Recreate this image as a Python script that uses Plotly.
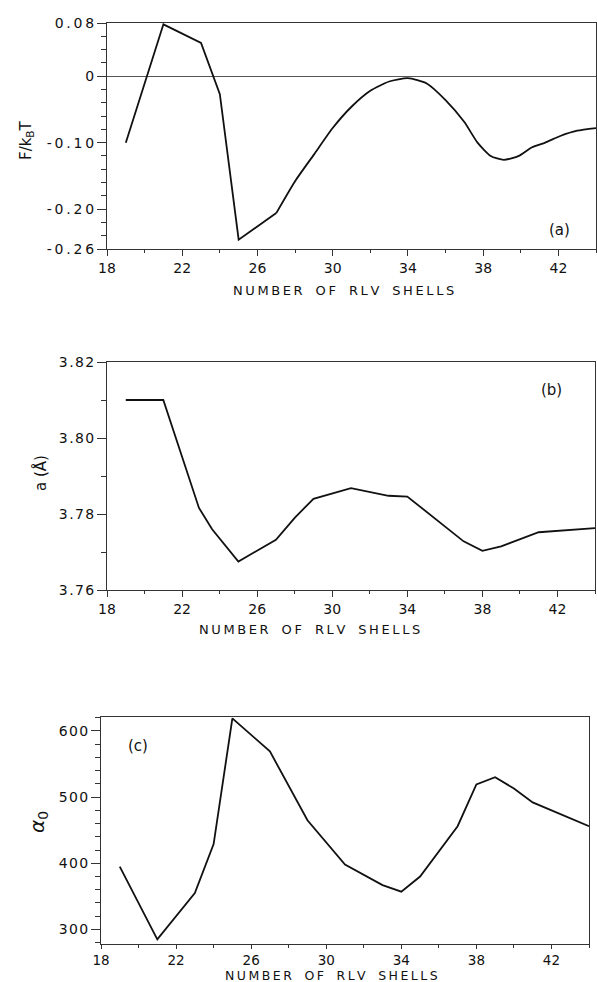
import plotly.graph_objects as go

# ---------------- data ----------------
# (a) free energy F/kBT vs number of RLV shells
a_lin_x = [19, 21, 23, 24, 25, 27]
a_lin_y = [-0.100, 0.078, 0.050, -0.027, -0.246, -0.206]
a_smooth_x = [27, 28, 29, 30, 31, 32, 33, 34, 35, 36, 37, 37.7, 38.4, 39.1, 39.9, 40.6, 41.3, 42.1, 43, 44]
a_smooth_y = [-0.206, -0.158, -0.118, -0.078, -0.046, -0.022, -0.008, -0.003, -0.011, -0.036,
              -0.069, -0.100, -0.120, -0.126, -0.120, -0.107, -0.100, -0.090, -0.082, -0.078]

# (b) lattice constant a (Angstrom)
b_x = [19, 21, 22.9, 23.6, 25, 27, 28, 29, 31, 33, 34, 37, 38, 39, 41, 44]
b_y = [3.8100, 3.8100, 3.7816, 3.7760, 3.7675, 3.7732, 3.7790, 3.7840, 3.7868, 3.7848,
       3.7846, 3.7728, 3.7703, 3.7715, 3.7752, 3.7763]

# (c) alpha_0
c_x = [19, 21, 23, 23.2, 24, 25, 27, 29, 31, 33, 34, 35, 37, 38, 39, 40, 41, 44]
c_y = [395, 285, 355, 370, 429, 619, 569, 465, 398, 367, 357, 380, 456, 519, 530, 513, 492, 456]

x_ticks = [18, 22, 26, 30, 34, 38, 42]
a_ticks = [0.08, 0, -0.10, -0.20, -0.26]
a_ticktext = ["0.08", "0", "-0.10", "-0.20", "-0.26"]
b_ticks = [3.76, 3.78, 3.80, 3.82]
b_ticktext = ["3.76", "3.78", "3.80", "3.82"]
c_ticks = [300, 400, 500, 600]
c_ticktext = ["300", "400", "500", "600"]

W, H = 597, 982
FONT = "DejaVu Sans"
INK = "#111111"
AX = "#333333"

def px(v):
    return v / W

def py(v):
    return 1 - v / H

def spaced(s, sep):
    return sep.join(s)

fig = go.Figure()
line = dict(color=INK, width=1.8)
fig.add_trace(go.Scatter(x=a_lin_x, y=a_lin_y, mode="lines", line=line, xaxis="x", yaxis="y"))
fig.add_trace(go.Scatter(x=a_smooth_x, y=a_smooth_y, mode="lines",
                         line=dict(color=INK, width=1.8, shape="spline", smoothing=0.6),
                         xaxis="x", yaxis="y"))
fig.add_trace(go.Scatter(x=b_x, y=b_y, mode="lines", line=line, xaxis="x2", yaxis="y2"))
fig.add_trace(go.Scatter(x=c_x, y=c_y, mode="lines", line=line, xaxis="x3", yaxis="y3"))

tickfont = dict(family=FONT, size=14, color=INK)

def xaxis(dom, anchor, tl=6, fs=14):
    return dict(domain=dom, anchor=anchor, range=[18, 44], tickmode="array", tickvals=x_ticks,
                ticks="outside", ticklen=tl, tickwidth=1, tickcolor=AX, automargin=False,
                minor=dict(dtick=2, tick0=0, ticks="outside", ticklen=3, tickcolor=AX),
                showline=True, linecolor=AX, linewidth=1, mirror=True,
                showgrid=False, zeroline=False, tickfont=dict(family=FONT, size=fs, color=INK))

def yaxis(dom, anchor, rng, tv, tt, mdt):
    return dict(domain=dom, anchor=anchor, range=rng, tickmode="array", tickvals=tv, ticktext=tt,
                ticks="outside", ticklen=9, tickwidth=1, tickcolor=AX, automargin=False,
                minor=dict(dtick=mdt, tick0=0, ticks="outside", ticklen=5, tickcolor=AX),
                showline=True, linecolor=AX, linewidth=1, mirror=True,
                showgrid=False, zeroline=False, tickfont=tickfont)

ya = yaxis([py(249), py(23)], "x", [-0.26, 0.08], a_ticks,
           [spaced(t, "\u2009") for t in a_ticktext], 0.02)
ya.update(zeroline=True, zerolinecolor="#555555", zerolinewidth=1)

fig.update_layout(
    width=W, height=H, margin=dict(l=0, r=0, t=0, b=0, autoexpand=False),
    paper_bgcolor="white", plot_bgcolor="white", showlegend=False,
    xaxis=xaxis([px(107), px(596)], "y"),
    yaxis=ya,
    xaxis2=xaxis([px(107), px(595)], "y2"),
    yaxis2=yaxis([py(590), py(362)], "x2", [3.76, 3.82], b_ticks,
                 [spaced(t, "\u200a") for t in b_ticktext], 0.01),
    xaxis3=xaxis([px(101), px(589)], "y3", tl=4, fs=13.5),
    yaxis3=yaxis([py(944), py(717)], "x3", [278, 621], c_ticks,
                 [spaced(t, "\u200a") for t in c_ticktext], 20),
)

titlefont = dict(family=FONT, size=13, color=INK)
xt = "\u2009".join("NUMBER OF RLV SHELLS").replace("\u2009 \u2009", "\u2003")
C = dict(xanchor="center", yanchor="middle", showarrow=False)
ann = [
    dict(text=xt, x=px(343), y=py(290), xref="paper", yref="paper", font=titlefont, **C),
    dict(text=xt, x=px(309), y=py(629), xref="paper", yref="paper", font=titlefont, **C),
    dict(text=xt, x=px(331), y=py(975), xref="paper", yref="paper",
         font=dict(family=FONT, size=12.5, color=INK), **C),
    dict(text="F/k<sub>B</sub>T", x=px(26), y=py(140), xref="paper", yref="paper",
         textangle=-90, font=dict(family=FONT, size=15, color=INK), **C),
    dict(text="a (Å)", x=px(40), y=py(473), xref="paper", yref="paper",
         textangle=-90, font=dict(family=FONT, size=15, color=INK), **C),
    dict(text="<i>α</i><sub>0</sub>", x=px(38), y=py(822), xref="paper", yref="paper",
         textangle=-90, font=dict(family=FONT, size=20, color=INK), **C),
    dict(text="(a)", x=42.07, y=-0.232, xref="x", yref="y", font=dict(family=FONT, size=15, color=INK), **C),
    dict(text="(b)", x=41.7, y=3.8125, xref="x2", yref="y2", font=dict(family=FONT, size=15, color=INK), **C),
    dict(text="(c)", x=19.97, y=577, xref="x3", yref="y3", font=dict(family=FONT, size=15, color=INK), **C),
]
fig.update_layout(annotations=ann)

fig.write_html("out.html")
